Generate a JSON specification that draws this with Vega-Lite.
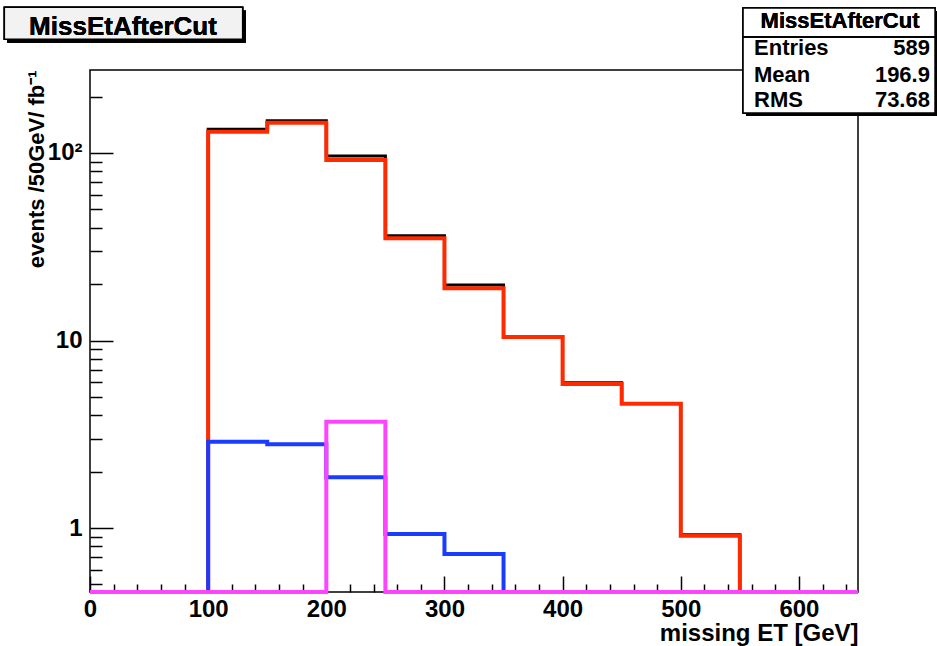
{
  "$schema": "https://vega.github.io/schema/vega-lite/v6.json",
  "width": 768,
  "height": 522,
  "autosize": {"type": "none"},
  "padding": {"left": 90, "top": 70, "right": 79, "bottom": 54},
  "background": "white",
  "config": {
    "view": {"stroke": "black", "strokeWidth": 1.5},
    "font": "Liberation Sans",
    "text": {"font": "Liberation Sans", "fontWeight": "bold", "color": "black"}
  },
  "datasets": {
    "hist": [
      {"s": "total", "x": 0, "v": 0}, {"s": "total", "x": 50, "v": 0}, {"s": "total", "x": 100, "v": 133.8},
      {"s": "total", "x": 150, "v": 148.7}, {"s": "total", "x": 200, "v": 96.4}, {"s": "total", "x": 250, "v": 36.2},
      {"s": "total", "x": 300, "v": 19.8}, {"s": "total", "x": 350, "v": 10.5}, {"s": "total", "x": 400, "v": 5.96},
      {"s": "total", "x": 450, "v": 4.62}, {"s": "total", "x": 500, "v": 0.92}, {"s": "total", "x": 550, "v": 0},
      {"s": "total", "x": 600, "v": 0}, {"s": "total", "x": 650, "v": 0},
      {"s": "red", "x": 0, "v": 0}, {"s": "red", "x": 50, "v": 0}, {"s": "red", "x": 100, "v": 129.9},
      {"s": "red", "x": 150, "v": 145.1}, {"s": "red", "x": 200, "v": 91.8}, {"s": "red", "x": 250, "v": 35.1},
      {"s": "red", "x": 300, "v": 19.0}, {"s": "red", "x": 350, "v": 10.45}, {"s": "red", "x": 400, "v": 5.86},
      {"s": "red", "x": 450, "v": 4.6}, {"s": "red", "x": 500, "v": 0.91}, {"s": "red", "x": 550, "v": 0},
      {"s": "red", "x": 600, "v": 0}, {"s": "red", "x": 650, "v": 0},
      {"s": "blue", "x": 0, "v": 0}, {"s": "blue", "x": 50, "v": 0}, {"s": "blue", "x": 100, "v": 2.886},
      {"s": "blue", "x": 150, "v": 2.795}, {"s": "blue", "x": 200, "v": 1.864}, {"s": "blue", "x": 250, "v": 0.929},
      {"s": "blue", "x": 300, "v": 0.727}, {"s": "blue", "x": 350, "v": 0}, {"s": "blue", "x": 400, "v": 0},
      {"s": "blue", "x": 450, "v": 0}, {"s": "blue", "x": 500, "v": 0}, {"s": "blue", "x": 550, "v": 0},
      {"s": "blue", "x": 600, "v": 0}, {"s": "blue", "x": 650, "v": 0},
      {"s": "magenta", "x": 0, "v": 0}, {"s": "magenta", "x": 50, "v": 0}, {"s": "magenta", "x": 100, "v": 0},
      {"s": "magenta", "x": 150, "v": 0}, {"s": "magenta", "x": 200, "v": 3.69}, {"s": "magenta", "x": 250, "v": 0},
      {"s": "magenta", "x": 300, "v": 0}, {"s": "magenta", "x": 350, "v": 0}, {"s": "magenta", "x": 400, "v": 0},
      {"s": "magenta", "x": 450, "v": 0}, {"s": "magenta", "x": 500, "v": 0}, {"s": "magenta", "x": 550, "v": 0},
      {"s": "magenta", "x": 600, "v": 0}, {"s": "magenta", "x": 650, "v": 0}
    ],
    "stats": [
      {"k": "Entries", "val": "589"},
      {"k": "Mean", "val": "196.9"},
      {"k": "RMS", "val": "73.68"}
    ]
  },
  "layer": [
    {
      "data": {"name": "hist"},
      "resolve": {"axis": {"x": "independent", "y": "independent"}},
      "layer": [
        {
          "transform": [{"filter": "datum.s === 'total'"}],
          "mark": {"type": "line", "interpolate": "step-after", "color": "black", "strokeWidth": 3, "clip": false},
          "encoding": {
            "x": {
              "field": "x", "type": "quantitative",
              "scale": {"domain": [0, 650], "nice": false, "zero": false},
              "axis": {
                "orient": "bottom", "values": [0, 100, 200, 300, 400, 500, 600],
                "domain": false, "grid": false, "tickSize": -16, "tickColor": "black", "tickWidth": 1.5,
                "labelFont": "Liberation Sans", "labelFontWeight": "bold", "labelFontSize": 24, "labelColor": "black",
                "labelPadding": 21, "labelBaseline": "top", "labelFlush": false, "labelOverlap": false,
                "title": "missing ET [GeV]", "titleFont": "Liberation Sans", "titleFontWeight": "bold", "titleFontSize": 24,
                "titleColor": "black", "titleAlign": "right", "titleBaseline": "alphabetic", "titleX": 768, "titleY": 48
              }
            },
            "y": {
              "field": "v", "type": "quantitative",
              "scale": {"type": "log", "domain": [0.456, 277], "nice": false, "clamp": true},
              "axis": {
                "orient": "left", "values": [1, 10, 100],
                "domain": false, "grid": false, "tickSize": -23, "tickColor": "black", "tickWidth": 1.5,
                "labelFont": "Liberation Sans", "labelFontWeight": "bold", "labelFontSize": 24, "labelColor": "black",
                "labelPadding": 31, "labelBaseline": "middle", "labelFlush": false, "labelOverlap": false,
                "labelExpr": "datum.value >= 100 ? '10²' : format(datum.value, 'd')",
                "title": "events /50GeV/ fb⁻¹", "titleFont": "Liberation Sans", "titleFontWeight": "bold", "titleFontSize": 22,
                "titleColor": "black", "titleAngle": -90, "titleAlign": "right", "titleBaseline": "alphabetic",
                "titleX": -47, "titleY": 0
              }
            }
          }
        },
        {
          "transform": [{"filter": "datum.s === 'red'"}],
          "mark": {"type": "line", "interpolate": "step-after", "color": "#ff2a00", "strokeWidth": 4, "clip": false},
          "encoding": {
            "x": {
              "field": "x", "type": "quantitative",
              "scale": {"domain": [0, 650], "nice": false, "zero": false},
              "axis": {
                "orient": "bottom",
                "values": [20, 40, 60, 80, 120, 140, 160, 180, 220, 240, 260, 280, 320, 340, 360, 380, 420, 440, 460, 480, 520, 540, 560, 580, 620, 640],
                "domain": false, "grid": false, "labels": false, "title": null,
                "tickSize": -8, "tickColor": "black", "tickWidth": 1.5
              }
            },
            "y": {
              "field": "v", "type": "quantitative",
              "scale": {"type": "log", "domain": [0.456, 277], "nice": false, "clamp": true},
              "axis": {
                "orient": "left",
                "values": [0.5, 0.6, 0.7, 0.8, 0.9, 2, 3, 4, 5, 6, 7, 8, 9, 20, 30, 40, 50, 60, 70, 80, 90, 200],
                "domain": false, "grid": false, "labels": false, "title": null,
                "tickSize": -12, "tickColor": "black", "tickWidth": 1.5
              }
            }
          }
        },
        {
          "transform": [{"filter": "datum.s === 'blue'"}],
          "mark": {"type": "line", "interpolate": "step-after", "color": "#1a3cff", "strokeWidth": 4, "clip": false},
          "encoding": {
            "x": {"field": "x", "type": "quantitative", "scale": {"domain": [0, 650], "nice": false, "zero": false}, "axis": null},
            "y": {"field": "v", "type": "quantitative", "scale": {"type": "log", "domain": [0.456, 277], "nice": false, "clamp": true}, "axis": null}
          }
        },
        {
          "transform": [{"filter": "datum.s === 'magenta'"}],
          "mark": {"type": "line", "interpolate": "step-after", "color": "#ff44ff", "strokeWidth": 4, "clip": false},
          "encoding": {
            "x": {"field": "x", "type": "quantitative", "scale": {"domain": [0, 650], "nice": false, "zero": false}, "axis": null},
            "y": {"field": "v", "type": "quantitative", "scale": {"type": "log", "domain": [0.456, 277], "nice": false, "clamp": true}, "axis": null}
          }
        }
      ]
    },
    {
      "data": {"name": "stats"},
      "encoding": {
        "x": {"type": "quantitative", "scale": {"domain": [0, 650], "nice": false, "zero": false}, "axis": null},
        "y": {"type": "quantitative", "scale": {"type": "log", "domain": [0.456, 277], "nice": false}, "axis": null}
      },
      "layer": [
        {
          "mark": {"type": "rect", "fill": "black", "clip": false},
          "encoding": {
            "x": {"datum": -70.0, "type": "quantitative"}, "x2": {"datum": 132.0},
            "y": {"datum": 575.0, "type": "quantitative"}, "y2": {"datum": 387.6}
          }
        },
        {
          "mark": {"type": "rect", "fill": "#f2f2f2", "stroke": "black", "strokeWidth": 1.5, "clip": false},
          "encoding": {
            "x": {"datum": -72.5, "type": "quantitative"}, "x2": {"datum": 129.2},
            "y": {"datum": 598.4, "type": "quantitative"}, "y2": {"datum": 404.0}
          }
        },
        {
          "mark": {"type": "text", "fontSize": 26, "align": "center", "baseline": "alphabetic", "clip": false},
          "encoding": {
            "x": {"datum": 27.9, "type": "quantitative"},
            "y": {"datum": 426.0, "type": "quantitative"},
            "text": {"value": "MissEtAfterCut"}
          }
        },
        {
          "mark": {"type": "rect", "fill": "black", "clip": false},
          "encoding": {
            "x": {"datum": 555.2, "type": "quantitative"}, "x2": {"datum": 717.7},
            "y": {"datum": 571.9, "type": "quantitative"}, "y2": {"datum": 157.5}
          }
        },
        {
          "mark": {"type": "rect", "fill": "white", "stroke": "black", "strokeWidth": 1.5, "clip": false},
          "encoding": {
            "x": {"datum": 552.7, "type": "quantitative"}, "x2": {"datum": 715.2},
            "y": {"datum": 593.0, "type": "quantitative"}, "y2": {"datum": 163.4}
          }
        },
        {
          "mark": {"type": "rule", "color": "black", "strokeWidth": 1.5, "clip": false},
          "encoding": {
            "x": {"datum": 552.7, "type": "quantitative"}, "x2": {"datum": 715.2},
            "y": {"datum": 415.6, "type": "quantitative"}
          }
        },
        {
          "mark": {"type": "text", "fontSize": 22, "align": "center", "baseline": "alphabetic", "clip": false},
          "encoding": {
            "x": {"datum": 634.8, "type": "quantitative"},
            "y": {"datum": 462.5, "type": "quantitative"},
            "text": {"value": "MissEtAfterCut"}
          }
        },
        {
          "transform": [{"filter": "datum.k === 'Entries'"}],
          "mark": {"type": "text", "fontSize": 22, "align": "left", "baseline": "alphabetic", "clip": false},
          "encoding": {"x": {"datum": 562.0, "type": "quantitative"}, "y": {"datum": 333.2, "type": "quantitative"}, "text": {"field": "k"}}
        },
        {
          "transform": [{"filter": "datum.k === 'Entries'"}],
          "mark": {"type": "text", "fontSize": 22, "align": "right", "baseline": "alphabetic", "clip": false},
          "encoding": {"x": {"datum": 710.9, "type": "quantitative"}, "y": {"datum": 333.2, "type": "quantitative"}, "text": {"field": "val"}}
        },
        {
          "transform": [{"filter": "datum.k === 'Mean'"}],
          "mark": {"type": "text", "fontSize": 22, "align": "left", "baseline": "alphabetic", "clip": false},
          "encoding": {"x": {"datum": 562.0, "type": "quantitative"}, "y": {"datum": 240.1, "type": "quantitative"}, "text": {"field": "k"}}
        },
        {
          "transform": [{"filter": "datum.k === 'Mean'"}],
          "mark": {"type": "text", "fontSize": 22, "align": "right", "baseline": "alphabetic", "clip": false},
          "encoding": {"x": {"datum": 710.9, "type": "quantitative"}, "y": {"datum": 240.1, "type": "quantitative"}, "text": {"field": "val"}}
        },
        {
          "transform": [{"filter": "datum.k === 'RMS'"}],
          "mark": {"type": "text", "fontSize": 22, "align": "left", "baseline": "alphabetic", "clip": false},
          "encoding": {"x": {"datum": 562.0, "type": "quantitative"}, "y": {"datum": 176.6, "type": "quantitative"}, "text": {"field": "k"}}
        },
        {
          "transform": [{"filter": "datum.k === 'RMS'"}],
          "mark": {"type": "text", "fontSize": 22, "align": "right", "baseline": "alphabetic", "clip": false},
          "encoding": {"x": {"datum": 710.9, "type": "quantitative"}, "y": {"datum": 176.6, "type": "quantitative"}, "text": {"field": "val"}}
        }
      ]
    }
  ],
  "resolve": {"scale": {"y": "independent"}}
}
